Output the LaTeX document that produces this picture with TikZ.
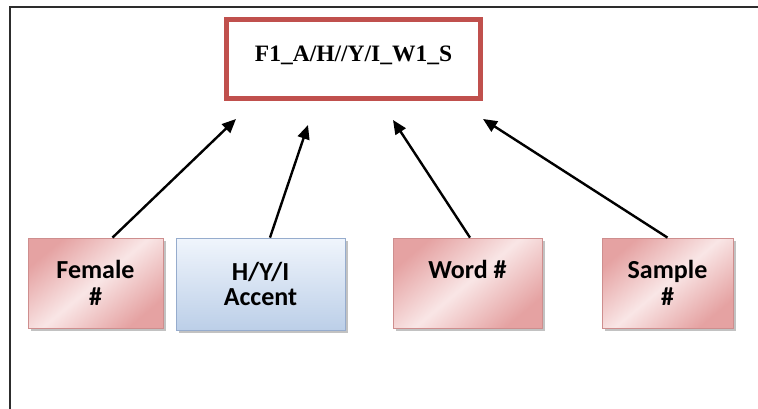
\documentclass[tikz,border=0pt]{standalone}
\usepackage{fontspec}
\setmainfont{Liberation Serif}
\setsansfont{Carlito}
\usetikzlibrary{arrows.meta,shadows,calc}
\definecolor{accentred}{RGB}{192,80,77}
\definecolor{pinkdark}{RGB}{229,162,162}
\definecolor{pinklight}{RGB}{249,230,230}
\definecolor{pinkedge}{RGB}{206,142,142}
\definecolor{bluelight}{RGB}{240,245,252}
\definecolor{bluedark}{RGB}{188,207,232}
\definecolor{blueedge}{RGB}{150,172,205}
\definecolor{framegray}{RGB}{45,45,45}
\begin{document}
\begin{tikzpicture}[x=1pt,y=-1pt,
  frame/.style={draw=framegray, line width=1.8pt},
  titlebox/.style={draw=accentred, line width=5pt, fill=white, inner sep=0pt,
    minimum width=254pt, text height=42pt, text depth=37pt,
    font=\fontsize{23.5}{26}\selectfont\bfseries},
  card/.style={line width=0.8pt, inner sep=0pt, minimum height=90pt, align=center,
    font=\sffamily\bfseries\fontsize{26}{27}\selectfont,
    drop shadow={shadow xshift=2.5pt, shadow yshift=-3pt, opacity=0.4, fill=black!60}},
  pinkcard/.style={card, draw=pinkedge, top color=pinkdark, bottom color=pinkdark,
    middle color=pinklight, shading angle=40},
  bluecard/.style={card, draw=blueedge, top color=bluelight, bottom color=bluedark},
  link/.style={line width=2.4pt, -{Triangle[length=14pt,width=12pt]}},
]
\useasboundingbox (0,0) rectangle (758,409);

% page frame (open towards the right and bottom edges)
\draw[frame] (10,409) -- (10,7) -- (758,7);

% file-name pattern
\node[titlebox, anchor=base] (code) at (353.5,62) {F1\_A/H//Y/I\_W1\_S};

% components
\node[pinkcard, minimum width=135pt] (female) at (95.5,283) {Female\\\#};
\node[bluecard, minimum width=169pt, minimum height=92pt,
  font=\sffamily\bfseries\fontsize{26}{25}\selectfont] (accent) at (260.5,284) {H/Y/I\\Accent};
\node[pinkcard, minimum width=149pt, minimum height=0pt, text height=40pt, text depth=50pt,
  anchor=base] (word) at (467.5,278) {Word \#};
\node[pinkcard, minimum width=131pt] (sample) at (667.5,283) {Sample\\\#};

% arrow tips below the pattern box
\coordinate (t1) at (236,119);
\coordinate (t2) at (308,125);
\coordinate (t3) at (393,120);
\coordinate (t4) at (483,119);

\draw[link] ([xshift=17pt]female.north) -- (t1);
\draw[link] ([xshift=9.5pt]accent.north) -- (t2);
\draw[link] ([xshift=2.5pt]word.north) -- (t3);
\draw[link] (sample.north) -- (t4);
\end{tikzpicture}
\end{document}
